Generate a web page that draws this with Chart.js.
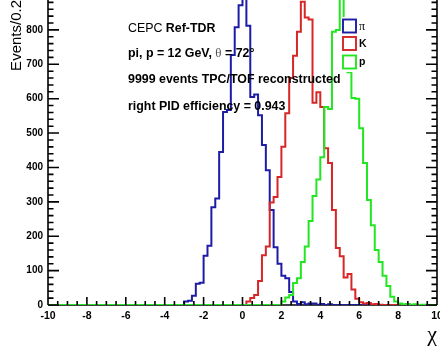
<!DOCTYPE html>
<html>
<head>
<meta charset="utf-8">
<script src="https://cdn.jsdelivr.net/npm/chart.js@4"></script>
<style>
  html, body { margin: 0; padding: 0; background: #fff; overflow: hidden; }
  #wrap { position: absolute; left: 0; top: 0; width: 440px; height: 361px; }
</style>
</head>
<body>
<div id="wrap"><canvas id="chi_pid"></canvas></div>
<script>
// histogram binning: 100 bins of 0.2 from -10 to 10
const binLow = -10;
const binWidth = 0.2;

// counts per bin (rows of 10 bins)
const countsPi = [
    0, 0, 0, 0, 0, 0, 0, 0, 0, 0,
    0, 0, 0, 0, 0, 0, 0, 0, 0, 0,
    0, 0, 0, 0, 0, 0, 0, 0, 0, 0,
    0, 0, 0, 0, 0, 10, 12, 27, 62, 65,
    143, 172, 284, 310, 445, 561, 567, 727, 808, 872,
    950, 812, 605, 612, 552, 465, 392, 276, 168, 120,
    85, 78, 38, 10, 3, 8, 2, 4, 4, 1,
    3, 0, 2, 0, 0, 0, 0, 0, 0, 0,
    0, 0, 0, 0, 0, 0, 0, 0, 0, 0,
    0, 0, 0, 0, 0, 0, 0, 0, 0, 0
];
const countsK = [
    0, 0, 0, 0, 0, 0, 0, 0, 0, 0,
    0, 0, 0, 0, 0, 0, 0, 0, 0, 0,
    0, 0, 0, 0, 0, 0, 0, 0, 0, 0,
    0, 0, 0, 0, 0, 0, 0, 0, 0, 0,
    0, 0, 0, 0, 0, 0, 0, 0, 0, 0,
    0, 10, 20, 29, 70, 145, 170, 298, 314, 372,
    460, 558, 660, 725, 795, 882, 836, 830, 588, 619,
    576, 456, 413, 276, 166, 142, 80, 90, 45, 18,
    8, 4, 6, 2, 3, 1, 0, 0, 0, 0,
    0, 0, 0, 0, 0, 0, 0, 0, 0, 0
];
const countsP = [
    0, 0, 0, 0, 0, 0, 0, 0, 0, 0,
    0, 0, 0, 0, 0, 0, 0, 0, 0, 0,
    0, 0, 0, 0, 0, 0, 0, 0, 0, 0,
    0, 0, 0, 0, 0, 0, 0, 0, 0, 0,
    0, 0, 0, 0, 0, 0, 0, 0, 0, 0,
    0, 0, 0, 0, 0, 0, 0, 0, 0, 0,
    10, 22, 29, 64, 78, 125, 170, 244, 317, 365,
    430, 576, 570, 795, 800, 930, 780, 677, 602, 600,
    514, 413, 305, 232, 160, 125, 85, 55, 24, 10,
    4, 2, 3, 1, 2, 0, 1, 0, 0, 0
];

const speciesLabels = ["π", "K", "p"];
const speciesColors = ["#1c1ca6", "#d62626", "#22e622"];

const xMajorTicks = [-10, -8, -6, -4, -2, 0, 2, 4, 6, 8, 10];
const yMajorTicks = [0, 100, 200, 300, 400, 500, 600, 700, 800];
const yTop = 887;

const infoLines = [
    [["CEPC ", "normal"], ["Ref-TDR", "bold"]],
    [["pi, p = 12 GeV, ", "bold"], ["θ", "greek"], [" = 72°", "bold"]],
    [["9999 events TPC/TOF reconstructed", "bold"]],
    [["right PID efficiency = 0.943", "bold"]]
];

const SANS = '"Liberation Sans", Arial, Helvetica, sans-serif';
const SERIF = '"Liberation Serif", "Times New Roman", serif';

// bin edges -> step points (value held until next edge)
function toSteps(counts) {
    const pts = counts.map((c, i) => ({ x: binLow + i * binWidth, y: c }));
    pts.push({ x: binLow + counts.length * binWidth, y: counts[counts.length - 1] });
    return pts;
}

const frameUnder = {
    id: 'frameUnder',
    beforeDatasetsDraw(chart) {
        const { ctx, chartArea: a } = chart;
        ctx.save();
        ctx.strokeStyle = '#000';
        ctx.lineWidth = 1.5;
        ctx.beginPath();
        ctx.moveTo(a.left, a.bottom);
        ctx.lineTo(a.right, a.bottom);
        ctx.stroke();
        ctx.restore();
    }
};

// ROOT style frame: ticks inside, minor ticks, mirrored on the right
const axisTicks = {
    id: 'axisTicks',
    afterDatasetsDraw(chart) {
        const { ctx, chartArea: a, scales: { x, y } } = chart;
        ctx.save();
        ctx.strokeStyle = '#000';
        ctx.lineWidth = 1.6;
        ctx.beginPath();
        ctx.moveTo(a.left, a.top);
        ctx.lineTo(a.left, a.bottom);
        ctx.moveTo(a.right, a.top);
        ctx.lineTo(a.right, a.bottom);
        for (let v = 0; v < y.max; v += 20) {
            const py = y.getPixelForValue(v);
            const len = v % 100 === 0 ? 11 : 5.5;
            ctx.moveTo(a.left, py);
            ctx.lineTo(a.left + len, py);
            ctx.moveTo(a.right, py);
            ctx.lineTo(a.right - len, py);
        }
        for (let k = 0; k <= 40; k++) {
            const v = x.min + k * 0.5;
            const px = x.getPixelForValue(v);
            const len = k % 4 === 0 ? 8 : 4;
            ctx.moveTo(px, a.bottom);
            ctx.lineTo(px, a.bottom - len);
        }
        ctx.stroke();
        ctx.restore();
    }
};

const boxLegend = {
    id: 'boxLegend',
    afterDatasetsDraw(chart) {
        const { ctx } = chart;
        ctx.save();
        ctx.fillStyle = '#fff';
        ctx.fillRect(341, 17, 30, 55);
        const tops = [19.5, 37, 55.5];
        speciesLabels.forEach((lab, i) => {
            ctx.fillStyle = '#fff';
            ctx.fillRect(343, tops[i], 13, 13);
            ctx.strokeStyle = speciesColors[i];
            ctx.lineWidth = 1.9;
            ctx.strokeRect(343, tops[i], 13, 13);
            ctx.fillStyle = '#000';
            ctx.textBaseline = 'middle';
            ctx.textAlign = 'left';
            ctx.font = i === 0 ? '12px ' + SERIF : 'bold 10.5px ' + SANS;
            ctx.fillText(lab, 359, tops[i] + 7);
        });
        ctx.restore();
    }
};

const infoText = {
    id: 'infoText',
    afterDatasetsDraw(chart) {
        const { ctx } = chart;
        const fonts = {
            normal: '12.4px ' + SANS,
            bold: 'bold 12.4px ' + SANS,
            greek: '13px ' + SERIF
        };
        const baselines = [32, 57, 83, 110];
        ctx.save();
        ctx.textBaseline = 'alphabetic';
        ctx.textAlign = 'left';
        infoLines.forEach((parts, i) => {
            let px = 128;
            parts.forEach(([txt, style]) => {
                ctx.font = fonts[style];
                ctx.fillStyle = style === 'greek' ? '#555' : '#000';
                ctx.fillText(txt, px, baselines[i]);
                px += ctx.measureText(txt).width;
            });
        });
        ctx.restore();
    }
};

const config_chi = {
    type: 'line',
    data: {
        datasets: [countsPi, countsK, countsP].map((counts, i) => ({
            label: speciesLabels[i],
            data: toSteps(counts),
            borderColor: speciesColors[i],
            backgroundColor: speciesColors[i],
            borderWidth: 2,
            stepped: true,
            pointRadius: 0,
            fill: false,
            order: 3 - i
        }))
    },
    options: {
        responsive: true,
        maintainAspectRatio: false,
        animation: false,
        layout: { padding: { left: 0, right: 3, top: 0, bottom: 0 } },
        plugins: {
            legend: { display: false },
            tooltip: { enabled: false }
        },
        scales: {
            x: {
                type: 'linear',
                min: -10,
                max: 10,
                afterBuildTicks: s => { s.ticks = xMajorTicks.map(v => ({ value: v })); },
                afterFit: s => { s.height = 56; s.paddingLeft = 0; s.paddingRight = 0; },
                grid: { display: false, drawTicks: false },
                border: { display: false },
                ticks: {
                    color: '#000',
                    padding: 5,
                    maxRotation: 0,
                    autoSkip: false,
                    font: { family: SANS, weight: 'bold', size: 10.5 }
                },
                title: {
                    display: true,
                    text: 'χ',
                    align: 'end',
                    color: '#000',
                    padding: { top: 0, bottom: 13 },
                    font: { family: SERIF, size: 22 }
                }
            },
            y: {
                min: 0,
                max: yTop,
                afterBuildTicks: s => { s.ticks = yMajorTicks.map(v => ({ value: v })); },
                afterFit: s => { s.width = 48; s.paddingTop = 0; s.paddingBottom = 0; },
                grid: { display: false, drawTicks: false },
                border: { display: false },
                ticks: {
                    color: '#000',
                    padding: 5,
                    font: { family: SANS, weight: 'bold', size: 10 }
                },
                title: {
                    display: true,
                    text: 'Events/0.2',
                    align: 'end',
                    color: '#000',
                    padding: { top: 8, bottom: 0 },
                    font: { family: SANS, size: 15 }
                }
            }
        }
    },
    plugins: [frameUnder, axisTicks, boxLegend, infoText]
};

const ctx_chi = document.getElementById("chi_pid").getContext('2d');
const myChart_chi = new Chart(ctx_chi, config_chi);
</script>
</body>
</html>
